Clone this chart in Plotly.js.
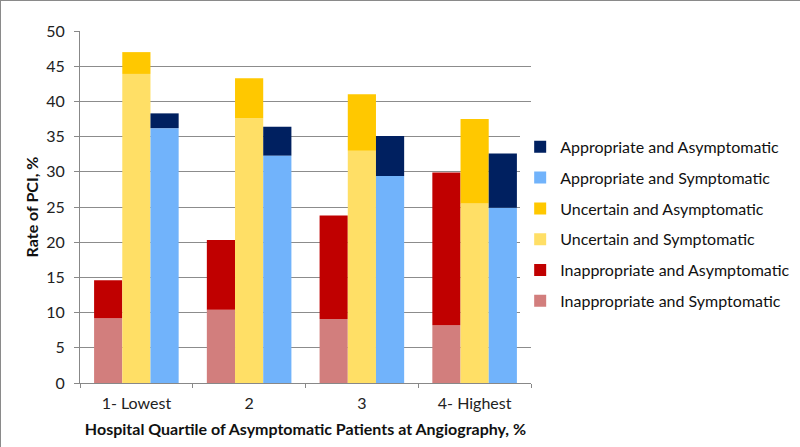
<!DOCTYPE html>
<html>
<head>
<meta charset="utf-8">
<script src="https://cdn.plot.ly/plotly-3.0.1.min.js"></script>
<style>
html,body{margin:0;padding:0;background:#fff;}
#chart{width:800px;height:447px;box-sizing:border-box;border:1px solid #8a8a8a;}
</style>
</head>
<body>
<div id="chart"></div>
<script>
var categories = ["1- Lowest", "2", "3", "4- Highest"];
var inappSymp  = [9.2, 10.4, 9.1, 8.2];
var inappAsym  = [5.4, 9.9, 14.7, 21.7];
var uncSymp    = [43.9, 37.6, 33.0, 25.5];
var uncAsym    = [3.1, 5.7, 8.0, 12.0];
var appSymp    = [36.2, 32.3, 29.4, 24.9];
var appAsym    = [2.1, 4.1, 5.7, 7.7];

function bar(name, y, base, group, color, rank) {
  var t = {type: 'bar', name: name, x: categories, y: y, offsetgroup: group,
           legendgroup: name, legendrank: rank,
           marker: {color: color, line: {width: 0}}, hoverinfo: 'y+name'};
  if (base) t.base = base;
  return t;
}

var data = [
  bar('Inappropriate and Symptomatic', inappSymp, null, 'a', '#D27E7D', 6),
  bar('Inappropriate and Asymptomatic', inappAsym, inappSymp, 'a', '#C00000', 5),
  bar('Uncertain and Symptomatic', uncSymp, null, 'b', '#FFDF66', 4),
  bar('Uncertain and Asymptomatic', uncAsym, uncSymp, 'b', '#FFC800', 3),
  bar('Appropriate and Symptomatic', appSymp, null, 'c', '#71B3FB', 2),
  bar('Appropriate and Asymptomatic', appAsym, appSymp, 'c', '#002060', 1)
];

var font = 'Lato, "Open Sans", sans-serif';
var layout = {
  width: 800, height: 447,
  margin: {l: 79, r: 270, t: 30, b: 65, autoexpand: false},
  paper_bgcolor: '#fff', plot_bgcolor: '#fff',
  barmode: 'group', bargap: 0.25, bargroupgap: 0,
  font: {family: font, size: 16, color: '#222'},
  showlegend: true,
  legend: {traceorder: 'grouped', x: 0.976, xanchor: 'left', y: 0.452, yanchor: 'middle',
           font: {family: font, size: 16, color: '#111'}, tracegroupgap: 7, itemwidth: 30},
  xaxis: {
    type: 'category', tickson: 'boundaries', ticks: 'outside', ticklen: 4, tickcolor: '#888',
    showline: true, linecolor: '#888', linewidth: 1, showgrid: false,
    tickfont: {size: 16, color: '#222'}, ticklabelstandoff: 6,
    title: {text: '<b>Hospital Quartile of Asymptomatic Patients at Angiography, %</b>',
            font: {size: 16, color: '#111'}, standoff: 12}
  },
  yaxis: {
    range: [0, 50], dtick: 5, ticks: 'outside', ticklen: 5, tickcolor: '#888',
    showline: true, linecolor: '#888', linewidth: 1,
    showgrid: true, gridcolor: '#8c8c8c', gridwidth: 1, zeroline: false,
    tickfont: {size: 16, color: '#222'}, ticklabelstandoff: 6,
    title: {text: '<b>Rate of PCI, %</b>', font: {size: 16, color: '#111'}, standoff: 3}
  }
};

Plotly.newPlot('chart', data, layout, {displayModeBar: false, staticPlot: true});
</script>
</body>
</html>
